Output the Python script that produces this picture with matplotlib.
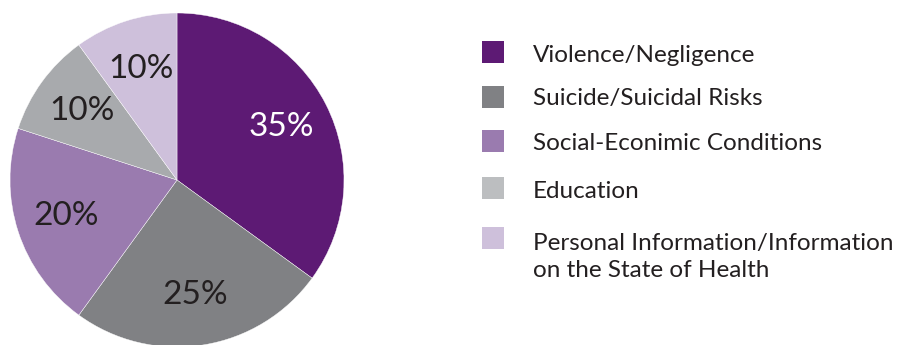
import matplotlib.pyplot as plt
from matplotlib.patches import Rectangle

plt.rcParams['font.family'] = ['Lato', 'DejaVu Sans']

categories = ['Violence/Negligence', 'Suicide/Suicidal Risks',
              'Social-Econimic Conditions', 'Education',
              'Personal Information/Information\non the State of Health']
shares = [35, 25, 20, 10, 10]
colors = ['#5D1A74', '#808184', '#9A7BAF', '#A8AAAD', '#CEC0DB']
legend_colors = ['#5D1A74', '#808184', '#9A7BAF', '#BCBEC0', '#CEC0DB']
pct_colors = ['white', '#231F20', '#231F20', '#231F20', '#231F20']

W, H = 901, 345
fig = plt.figure(figsize=(W / 100, H / 100), dpi=100)

# pie axes: centre (177, 180) px, radius 167 px
cx, cy, r = 177, 180, 167
ax = fig.add_axes([(cx - r) / W, (H - cy - r) / H, 2 * r / W, 2 * r / H])
wedges, texts, autotexts = ax.pie(shares, colors=colors, startangle=90,
                                  counterclock=False, autopct='%d%%',
                                  pctdistance=0.7, radius=1,
                                  wedgeprops=dict(linewidth=0.3, edgecolor='white'),
                                  textprops=dict(fontsize=24))
for t, c in zip(autotexts, pct_colors):
    t.set_color(c)
ax.set_xlim(-1, 1)
ax.set_ylim(-1, 1)
ax.set_aspect('equal')
ax.axis('off')

# legend drawn by hand in pixel positions (square centre, first baseline)
square_y = [52, 97, 141, 188, 238]
baseline_y = [62, 105, 150, 198, 247]
for sy, by, lab, c in zip(square_y, baseline_y, categories, legend_colors):
    fig.patches.append(Rectangle((482 / W, (H - sy - 11) / H), 22 / W, 22 / H,
                                 transform=fig.transFigure, facecolor=c,
                                 edgecolor='none'))
    fig.text(533 / W, (H - by) / H, lab, fontsize=17.5, color='#231F20',
             va='baseline', ha='left', linespacing=1.35)

# the two-line label hangs from its first baseline
t = fig.texts[-1]
t.set_va('top')
t.set_position((533 / W, (H - baseline_y[-1] + 14) / H))

fig.savefig('out.png', dpi=100)
